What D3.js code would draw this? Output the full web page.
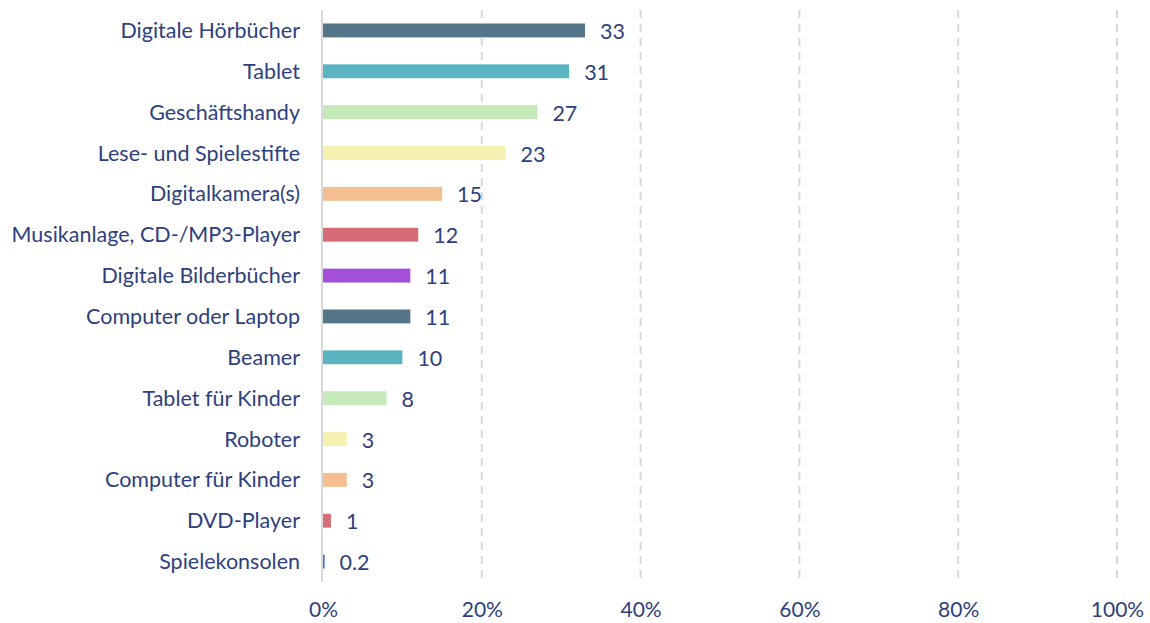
<!DOCTYPE html>
<html><head><meta charset="utf-8">
<script src="https://cdn.jsdelivr.net/npm/d3@7"></script>
<style>body{margin:0;background:#fff}svg{display:block}</style>
</head><body>
<svg id="c" width="1150" height="623"></svg>
<script>
const categories = ["Digitale Hörbücher","Tablet","Geschäftshandy","Lese- und Spielestifte","Digitalkamera(s)","Musikanlage, CD-/MP3-Player","Digitale Bilderbücher","Computer oder Laptop","Beamer","Tablet für Kinder","Roboter","Computer für Kinder","DVD-Player","Spielekonsolen"];
const values = [33,31,27,23,15,12,11,11,10,8,3,3,1,0.2];
const valueLabels = ["33","31","27","23","15","12","11","11","10","8","3","3","1","0.2"];
const barColors = ["#557688","#5BB5C0","#C5E9B8","#F5F1B0","#F4BE90","#D66C76","#A44FDA","#557688","#5BB5C0","#C5E9B8","#F5F1B0","#F4BE90","#D66C76","#3F73C8"];
const tickValues = [0,20,40,60,80,100];

const svg = d3.select("#c");
const font = "Lato, 'Open Sans', sans-serif";
const fs = 21.5;
const textColor = "#2E3F7E";
const x = d3.scaleLinear().domain([0,100]).range([323,1117]);
const y = d3.scaleBand().domain(categories).range([10,582]).paddingInner(0.66).paddingOuter(0.33);

// gridlines
svg.append("g").selectAll("line").data(tickValues.slice(1)).join("line")
  .attr("x1",d=>x(d)).attr("x2",d=>x(d)).attr("y1",10).attr("y2",582)
  .attr("stroke","#D9D9D9").attr("stroke-width",2).attr("stroke-dasharray","8,6");

// axis line
svg.append("line").attr("x1",x(0)-1).attr("x2",x(0)-1).attr("y1",10).attr("y2",582)
  .attr("stroke","#D9D9D9").attr("stroke-width",2);

// bars
svg.append("g").selectAll("rect").data(values).join("rect")
  .attr("x",x(0)).attr("y",(d,i)=>y(categories[i]))
  .attr("width",d=>x(d)-x(0)).attr("height",y.bandwidth())
  .attr("fill",(d,i)=>barColors[i]);

// category labels
svg.append("g").selectAll("text").data(categories).join("text")
  .attr("x",300).attr("y",d=>y(d)+y.bandwidth()/2).attr("dy","0.35em")
  .attr("text-anchor","end").attr("font-family",font).attr("font-size",fs)
  .attr("fill",textColor).text(d=>d);

// value labels
svg.append("g").selectAll("text").data(values).join("text")
  .attr("x",d=>x(d)+15).attr("y",(d,i)=>y(categories[i])+y.bandwidth()/2+1).attr("dy","0.35em")
  .attr("font-family",font).attr("font-size",fs).attr("fill",textColor)
  .text((d,i)=>valueLabels[i]);

// x axis
const xAxis = d3.axisBottom(x).tickValues(tickValues).tickFormat(d=>d+"%").tickSize(0).tickPadding(0);
const gx = svg.append("g").attr("transform","translate(0,617)").call(xAxis);
gx.select(".domain").remove();
gx.selectAll("text").attr("font-family",font).attr("font-size",21).attr("fill",textColor).attr("y",0).attr("dy","0");
</script>
</body></html>
